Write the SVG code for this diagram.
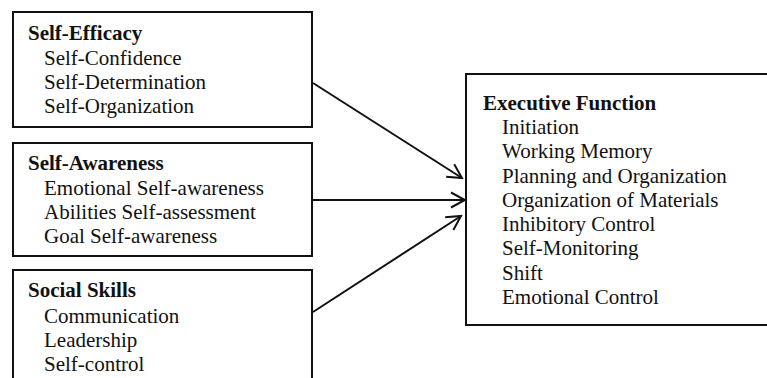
<svg xmlns="http://www.w3.org/2000/svg" width="767" height="378" viewBox="0 0 767 378">
<style>
.box{fill:#fff;stroke:#111;stroke-width:2}
.t{font-family:'Liberation Serif','DejaVu Serif',serif;font-size:21px;fill:#111}
.h{font-weight:bold}
.c{stroke:#111;stroke-width:2;fill:none}
</style>
<defs>
<marker id="arr" markerUnits="userSpaceOnUse" viewBox="0 0 18 18" refX="16" refY="9" markerWidth="18" markerHeight="18" orient="auto">
<path d="M2,1.5 L16,9 L2,16.5" fill="none" stroke="#111" stroke-width="2"/>
</marker>
</defs>
<rect width="767" height="378" fill="#fff"/>
<g id="self-efficacy">
<rect class="box" x="13" y="12" width="299" height="115"/>
<text class="t h" x="28" y="40">Self-Efficacy</text>
<text class="t" x="44" y="65">Self-Confidence</text>
<text class="t" x="44" y="89">Self-Determination</text>
<text class="t" x="44" y="113">Self-Organization</text>
</g>
<g id="self-awareness">
<rect class="box" x="13" y="143" width="299" height="113"/>
<text class="t h" x="28" y="170">Self-Awareness</text>
<text class="t" x="44" y="195">Emotional Self-awareness</text>
<text class="t" x="44" y="219">Abilities Self-assessment</text>
<text class="t" x="44" y="243">Goal Self-awareness</text>
</g>
<g id="social-skills">
<rect class="box" x="13" y="270" width="299" height="130"/>
<text class="t h" x="28" y="297">Social Skills</text>
<text class="t" x="44" y="323">Communication</text>
<text class="t" x="44" y="347">Leadership</text>
<text class="t" x="44" y="371">Self-control</text>
</g>
<g id="executive-function">
<rect class="box" x="466" y="74" width="320" height="251"/>
<text class="t h" x="483" y="110">Executive Function</text>
<text class="t" x="502" y="134">Initiation</text>
<text class="t" x="502" y="158">Working Memory</text>
<text class="t" x="502" y="183">Planning and Organization</text>
<text class="t" x="502" y="207">Organization of Materials</text>
<text class="t" x="502" y="231">Inhibitory Control</text>
<text class="t" x="502" y="255">Self-Monitoring</text>
<text class="t" x="502" y="280">Shift</text>
<text class="t" x="502" y="304">Emotional Control</text>
</g>
<g id="connectors">
<line class="c" x1="313" y1="83" x2="462" y2="178" marker-end="url(#arr)"/>
<line class="c" x1="313" y1="200" x2="465" y2="200" marker-end="url(#arr)"/>
<line class="c" x1="313" y1="312" x2="461" y2="216" marker-end="url(#arr)"/>
</g>
</svg>
